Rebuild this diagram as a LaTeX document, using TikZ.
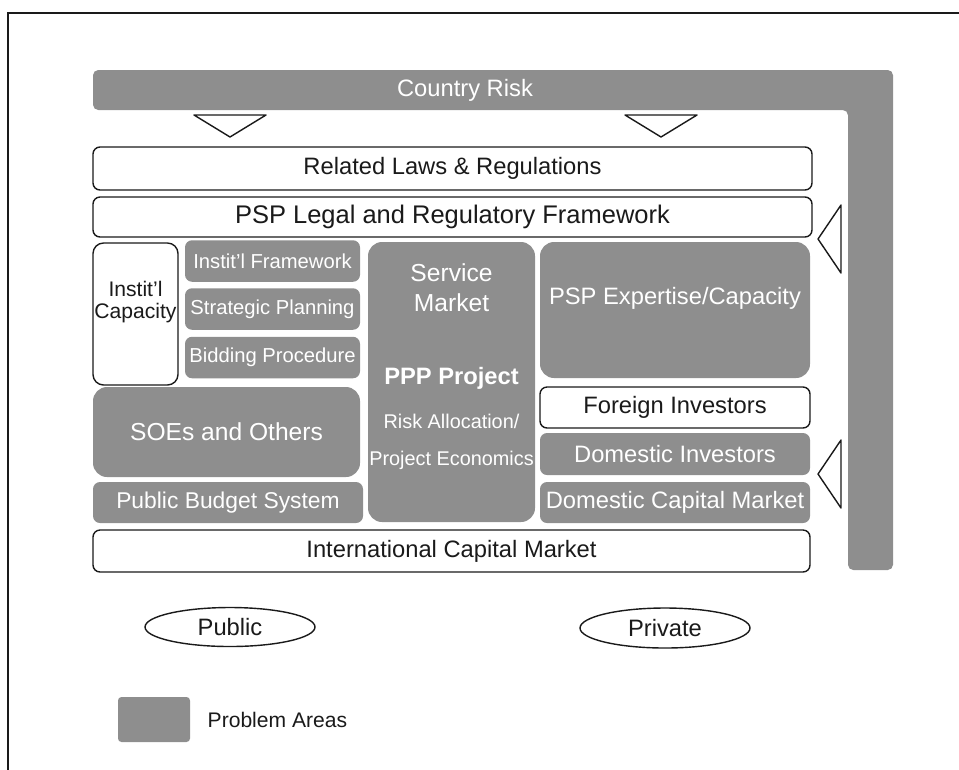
\documentclass[tikz,border=0pt]{standalone}
\usepackage{fontspec}
\setmainfont{Liberation Sans}
\usetikzlibrary{shapes.geometric,positioning}
\definecolor{ink}{HTML}{1A1A1A}
\definecolor{probgray}{HTML}{8E8E8E}
\tikzset{
  base/.style={rounded corners=4pt, align=center, inner sep=0pt, font=\fontsize{13.5}{15}\selectfont, text=ink},
  plain/.style={base, fill=white, draw=ink, line width=0.8pt},
  prob/.style={base, fill=probgray, text=white},
  tri/.style={fill=white, draw=ink, line width=0.8pt, line join=round},
  oval/.style={ellipse, draw=ink, line width=0.8pt, inner sep=0pt, font=\fontsize{13.5}{15}\selectfont, text=ink},
  sm/.style={font=\fontsize{11.5}{13}\selectfont},
}

\begin{document}
\begin{tikzpicture}[y=-1cm]
    \useasboundingbox (0,0) rectangle (19.18,15.38);
    % page frame
    \draw[ink, line width=0.8pt] (0.16,15.6) -- (0.16,0.26) -- (19.4,0.26);
    % country risk band
    \fill[probgray, rounded corners=3pt] (1.86,1.40) -- (17.86,1.40) -- (17.86,11.40) -- (16.96,11.40) -- (16.96,2.20) -- (1.86,2.20) -- cycle;
    \node[base, text=white] (risk) at (9.30,1.80) {Country Risk};
    \foreach \x in {4.60,13.22}
      \draw[tri] (\x-0.72,2.30) -- (\x+0.72,2.30) -- (\x,2.74) -- cycle;
    \foreach \y in {4.78,9.48}
      \draw[tri] (16.82,\y-0.68) -- (16.82,\y+0.68) -- (16.36,\y) -- cycle;

    \node[plain, minimum width=14.38cm, minimum height=0.86cm] (laws) at (9.05,3.37) {Related Laws \& Regulations};
    \node[plain, minimum width=14.38cm, minimum height=0.80cm, font=\fontsize{14.5}{16}\selectfont] (psp) at (9.05,4.34) {PSP Legal and Regulatory Framework};

    % public side
    \node[plain, rounded corners=6pt, minimum width=1.70cm, minimum height=2.84cm] (capbox) at (2.71,6.28) {};
    \node[base, font=\fontsize{12}{12}\selectfont] (cap) at (2.71,6.04) {Instit'l\\Capacity};
    \foreach \y/\name/\txt in {5.22/fw/Instit'l Framework, 6.18/plan/Strategic Planning, 7.15/bid/Bidding Procedure}
      \node[prob, sm, minimum width=3.50cm, minimum height=0.83cm] (\name) at (5.45,\y) {\txt};
    \node[prob, rounded corners=8pt, font=\fontsize{14}{16}\selectfont, minimum width=5.34cm, minimum height=1.80cm] (soe) at (4.53,8.64) {SOEs and Others};
    \node[prob, font=\fontsize{13}{15}\selectfont, minimum width=5.40cm, minimum height=0.82cm] (budget) at (4.56,10.05) {Public Budget System};

    % project
    \node[prob, rounded corners=8pt, minimum width=3.34cm, minimum height=5.60cm] (ppp) at (9.03,7.64) {};
    \node[base, text=white, font=\fontsize{14}{17}\selectfont] (svc) at (9.03,5.76) {Service\\Market};
    \node[base, text=white, font=\fontsize{13.5}{16}\selectfont\bfseries] (pname) at (9.03,7.56) {PPP Project};
    \node[base, text=white, font=\fontsize{11.3}{21}\selectfont] (alloc) at (9.03,8.83) {Risk Allocation/\\Project Economics};

    % private side
    \node[prob, rounded corners=8pt, minimum width=5.40cm, minimum height=2.72cm] (expbox) at (13.50,6.20) {};
    \node[base, text=white] (exp) at (13.50,5.96) {PSP Expertise/Capacity};
    \node[plain, minimum width=5.40cm, minimum height=0.82cm] (foreign) at (13.50,8.15) {Foreign Investors};
    \node[prob, minimum width=5.40cm, minimum height=0.84cm] (domInv) at (13.50,9.08) {Domestic Investors};
    \node[prob, minimum width=5.40cm, minimum height=0.82cm] (domCap) at (13.50,10.05) {Domestic Capital Market};

    \node[plain, minimum width=14.34cm, minimum height=0.84cm] (intl) at (9.03,11.02) {International Capital Market};

    \node[oval, minimum width=3.40cm, minimum height=0.78cm] (pub) at (4.60,12.54) {Public};
    \node[oval, minimum width=3.40cm, minimum height=0.80cm] (priv) at (13.30,12.56) {Private};

    % legend
    \node[prob, rounded corners=2pt, minimum width=1.44cm, minimum height=0.90cm] (key) at (3.08,14.39) {};
    \node[base, font=\fontsize{12}{14}\selectfont, right=0.34cm of key] (keytxt) {Problem Areas};
\end{tikzpicture}
\end{document}
